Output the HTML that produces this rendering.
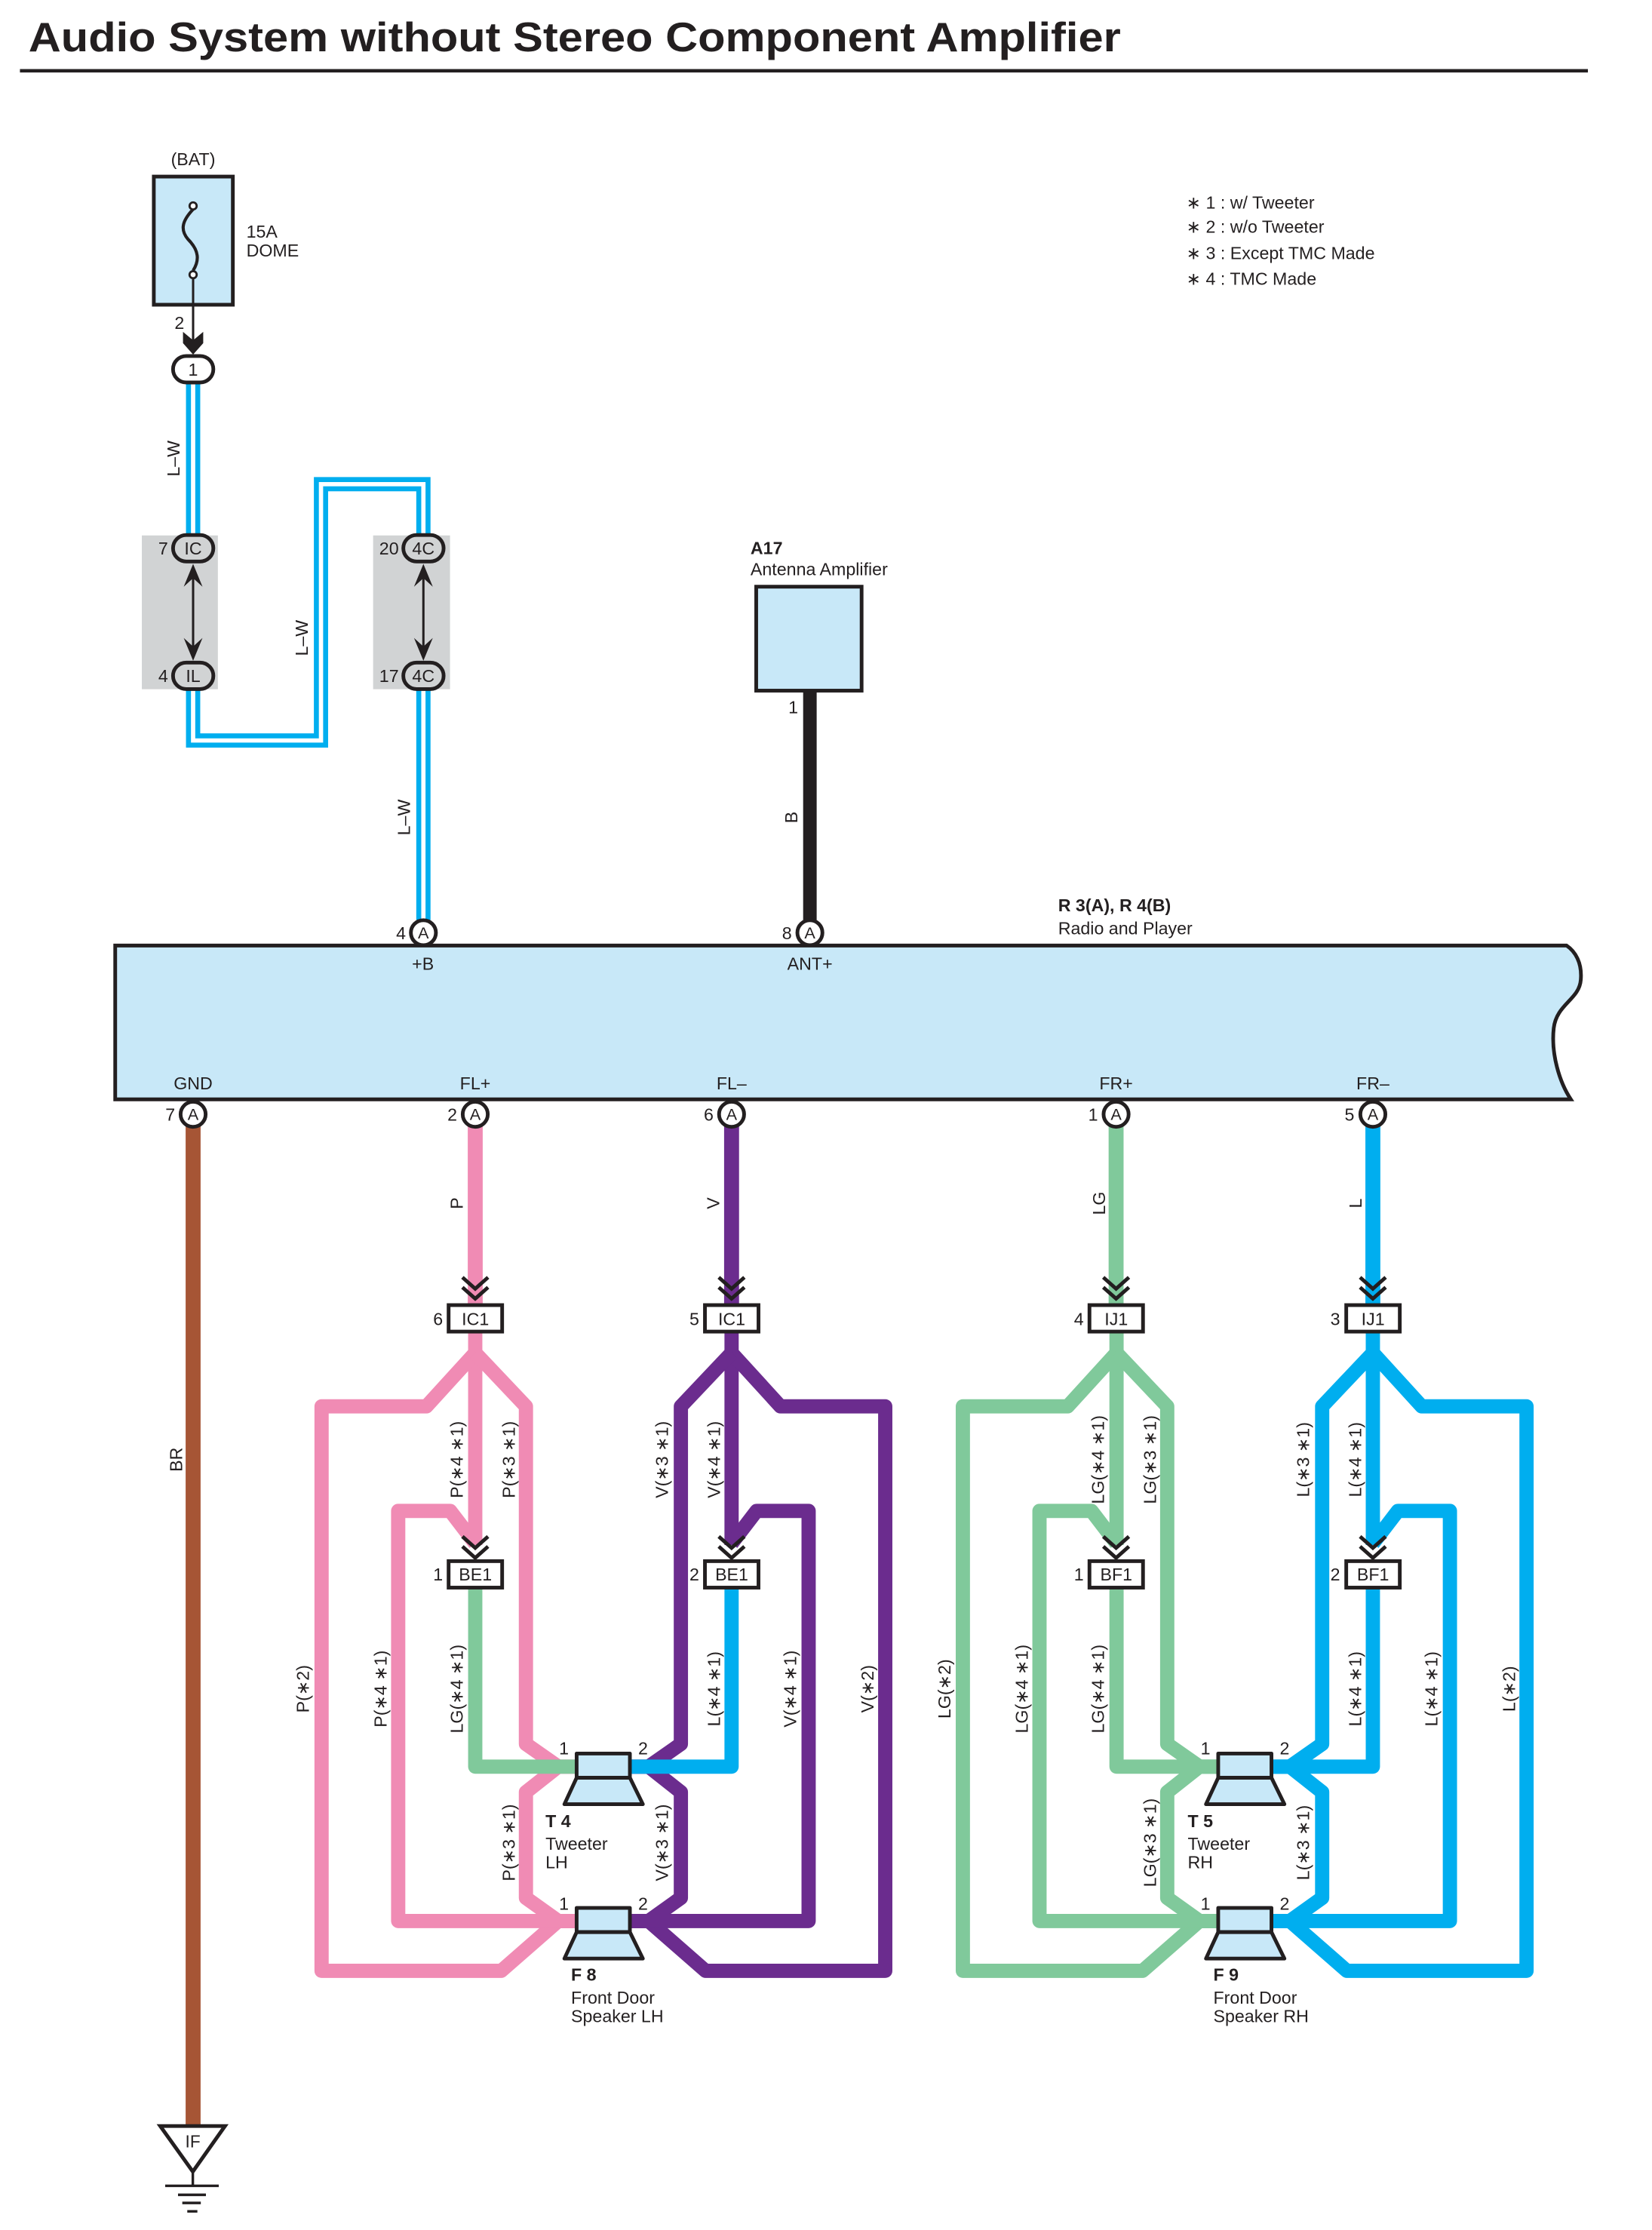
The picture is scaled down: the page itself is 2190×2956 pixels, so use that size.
<!DOCTYPE html>
<html><head><meta charset="utf-8"><style>
html,body{margin:0;padding:0;background:#fff;}
svg{display:block;}
text{font-family:"Liberation Sans",sans-serif;fill:#231f20;}
</style></head><body>
<svg width="2190" height="2956" viewBox="0 0 1160 1566" preserveAspectRatio="none" xmlns="http://www.w3.org/2000/svg">
<defs>
<g id="chev" fill="none" stroke="#231f20" stroke-width="2.6" stroke-linejoin="miter">
<polyline points="-9,0 0,8 9,0"/><polyline points="-9,7 0,15 9,7"/>
</g>
<g id="spk" stroke="#231f20" stroke-width="2.6" fill="#c8e8f8" stroke-linejoin="round">
<rect x="-18.7" y="0" width="37.4" height="17"/>
<polygon points="-18.7,17 18.7,17 27.8,35.6 -27.3,35.6"/>
</g>
</defs>

<text x="20" y="36" font-size="29" font-weight="bold" textLength="767" lengthAdjust="spacingAndGlyphs">Audio System without Stereo Component Amplifier</text>
<rect x="14" y="48.5" width="1101" height="2.4" fill="#231f20"/>

<g font-size="12.3">
<text x="833" y="146.5">∗ 1 : w/ Tweeter</text>
<text x="833" y="163.5">∗ 2 : w/o Tweeter</text>
<text x="833" y="182">∗ 3 : Except TMC Made</text>
<text x="833" y="200">∗ 4 : TMC Made</text>
</g>

<text x="135.6" y="116" font-size="12.3" text-anchor="middle">(BAT)</text>
<rect x="108" y="124" width="55.5" height="90" fill="#c8e8f8" stroke="#231f20" stroke-width="2.6"/>
<path d="M135.6,147 C127,156 127,162 132,168 C140,176 140,183 135.6,190" fill="none" stroke="#231f20" stroke-width="2.2"/>
<circle cx="135.6" cy="144.6" r="2.5" fill="#fff" stroke="#231f20" stroke-width="1.5"/>
<circle cx="135.6" cy="192.9" r="2.5" fill="#fff" stroke="#231f20" stroke-width="1.5"/>
<text x="173" y="167" font-size="12.3">15A</text>
<text x="173" y="180" font-size="12.3">DOME</text>
<line x1="135.6" y1="195" x2="135.6" y2="240" stroke="#231f20" stroke-width="1.6"/>
<polygon points="128.5,233 135.6,239 142.7,233 142.7,241 135.6,249 128.5,241" fill="#231f20"/>
<text x="126" y="231" font-size="12.3" text-anchor="middle">2</text>

<rect x="99.6" y="376" width="53.4" height="108" fill="#d1d3d4"/>
<rect x="262" y="376" width="54" height="108" fill="#d1d3d4"/>

<g fill="none" stroke-linejoin="miter">
<path d="M135.6,269 V376 M135.6,484 V520 H225.4 V340 H297.3 V376 M297.3,484 V646" stroke="#00aeef" stroke-width="10"/>
<path d="M135.6,269 V376 M135.6,484 V520 H225.4 V340 H297.3 V376 M297.3,484 V646" stroke="#fff" stroke-width="3"/>
</g>
<text transform="translate(126,322) rotate(-90)" font-size="12.3" text-anchor="middle">L–W</text>
<text transform="translate(216,448) rotate(-90)" font-size="12.3" text-anchor="middle">L–W</text>
<text transform="translate(288,574) rotate(-90)" font-size="12.3" text-anchor="middle">L–W</text>

<rect x="121.5" y="250" width="28.3" height="18.6" rx="9.3" fill="#fff" stroke="#231f20" stroke-width="2.6"/>
<text x="135.6" y="263.8" font-size="12.3" text-anchor="middle">1</text>
<g stroke="#231f20" stroke-width="2.6" fill="#d1d3d4">
<rect x="121.5" y="375.7" width="28.3" height="18.6" rx="9.3"/>
<rect x="121.5" y="465.3" width="28.3" height="18.6" rx="9.3"/>
<rect x="283.2" y="375.7" width="28.3" height="18.6" rx="9.3"/>
<rect x="283.2" y="465.3" width="28.3" height="18.6" rx="9.3"/>
</g>
<g font-size="12.3" text-anchor="middle">
<text x="135.6" y="389.5">IC</text><text x="135.6" y="479">IL</text>
<text x="297.3" y="389.5">4C</text><text x="297.3" y="479">4C</text>
</g>
<g font-size="12.3" text-anchor="end">
<text x="118" y="389.5">7</text><text x="118" y="479">4</text>
<text x="280" y="389.5">20</text><text x="280" y="479">17</text>
</g>
<g stroke="#231f20" stroke-width="1.6"><line x1="135.6" y1="404" x2="135.6" y2="456"/><line x1="297.3" y1="404" x2="297.3" y2="456"/></g>
<g fill="#231f20">
<polygon points="129,412 135.6,396 142.2,412 135.6,406"/>
<polygon points="129,448 135.6,464 142.2,448 135.6,454"/>
<polygon points="290.7,412 297.3,396 303.9,412 297.3,406"/>
<polygon points="290.7,448 297.3,464 303.9,448 297.3,454"/>
</g>

<text x="527" y="389" font-size="12.3" font-weight="bold">A17</text>
<text x="527" y="404" font-size="12.3">Antenna Amplifier</text>
<rect x="531" y="412" width="74" height="73" fill="#c8e8f8" stroke="#231f20" stroke-width="2.6"/>
<line x1="568.7" y1="485" x2="568.7" y2="646" stroke="#231f20" stroke-width="9.5"/>
<text x="557" y="501" font-size="12.3" text-anchor="middle">1</text>
<text transform="translate(560,574) rotate(-90)" font-size="12.3" text-anchor="middle">B</text>

<text x="743" y="640" font-size="12.3" font-weight="bold">R 3(A), R 4(B)</text>
<text x="743" y="656" font-size="12.3">Radio and Player</text>
<path d="M80.9,664 H1100 C1106,668 1111,676 1110,688 C1109,702 1093,705 1091,722 C1089,740 1095,760 1103,772 H80.9 Z" fill="#c8e8f8" stroke="#231f20" stroke-width="2.6" stroke-linejoin="miter"/>
<g font-size="12.3" text-anchor="middle">
<text x="297" y="681">+B</text><text x="568.7" y="681">ANT+</text>
<text x="135.6" y="765">GND</text><text x="333.7" y="765">FL+</text><text x="513.7" y="765">FL–</text>
<text x="783.7" y="765">FR+</text><text x="964" y="765">FR–</text>
</g>

<g fill="none" stroke-width="10.5">
<line x1="135.6" y1="790" x2="135.6" y2="1493" stroke="#a65535"/>
<line x1="333.7" y1="790" x2="333.7" y2="917" stroke="#f08bb4"/>
<line x1="513.7" y1="790" x2="513.7" y2="917" stroke="#6b2c8e"/>
<line x1="783.7" y1="790" x2="783.7" y2="917" stroke="#80c99b"/>
<line x1="964" y1="790" x2="964" y2="917" stroke="#00aeef"/>
</g>
<g font-size="12.3">
<text transform="translate(128,1025) rotate(-90)" text-anchor="middle">BR</text>
<text transform="translate(325,845) rotate(-90)" text-anchor="middle">P</text>
<text transform="translate(505,845) rotate(-90)" text-anchor="middle">V</text>
<text transform="translate(776,845) rotate(-90)" text-anchor="middle">LG</text>
<text transform="translate(956,845) rotate(-90)" text-anchor="middle">L</text>
</g>

<g fill="#fff" stroke="#231f20" stroke-width="2.6">
<circle cx="297.3" cy="655" r="8.8"/><circle cx="568.7" cy="655" r="8.8"/>
<circle cx="135.6" cy="782.5" r="8.8"/><circle cx="333.7" cy="782.5" r="8.8"/><circle cx="513.7" cy="782.5" r="8.8"/>
<circle cx="783.7" cy="782.5" r="8.8"/><circle cx="964" cy="782.5" r="8.8"/>
</g>
<g font-size="11.5" text-anchor="middle">
<text x="297.3" y="659">A</text><text x="568.7" y="659">A</text>
<text x="135.6" y="786.5">A</text><text x="333.7" y="786.5">A</text><text x="513.7" y="786.5">A</text>
<text x="783.7" y="786.5">A</text><text x="964" y="786.5">A</text>
</g>
<g font-size="12.3" text-anchor="end">
<text x="285" y="659.5">4</text><text x="556" y="659.5">8</text>
<text x="123" y="787">7</text><text x="321" y="787">2</text><text x="501" y="787">6</text>
<text x="771" y="787">1</text><text x="951" y="787">5</text>
</g>

<g fill="none" stroke-width="10" stroke-linejoin="round">
<g stroke="#f08bb4">
<path d="M333.7,935 V1085"/>
<path d="M333.7,950 L299.4,987.6 H225.8 V1384 H352 L392,1349 H405"/>
<path d="M333.7,950 L369.3,987.6 V1224.7 L392,1240.6 H405"/>
<path d="M405,1240.6 H392 L369.3,1258.5 V1332.8 L392,1349 H405"/>
<path d="M333.7,1084 L316.1,1061 H279.6 V1349 H405"/>
</g>
<g stroke="#6b2c8e">
<path d="M513.7,935 V1085"/>
<path d="M513.7,950 L548,987.6 H621.6 V1384 H495.4 L455.4,1349 H442"/>
<path d="M513.7,950 L478.1,987.6 V1224.7 L455.4,1240.6 H442"/>
<path d="M442,1240.6 H455.4 L478.1,1258.5 V1332.8 L455.4,1349 H442"/>
<path d="M513.7,1084 L531.3,1061 H567.8 V1349 H442"/>
</g>
<path d="M333.7,1115 V1240.6 H405" stroke="#80c99b"/>
<path d="M513.7,1115 V1240.6 H442" stroke="#00aeef"/>
</g>
<g transform="translate(450.3,0)" fill="none" stroke-width="10" stroke-linejoin="round">
<g stroke="#80c99b">
<path d="M333.7,935 V1085"/>
<path d="M333.7,950 L299.4,987.6 H225.8 V1384 H352 L392,1349 H405"/>
<path d="M333.7,950 L369.3,987.6 V1224.7 L392,1240.6 H405"/>
<path d="M405,1240.6 H392 L369.3,1258.5 V1332.8 L392,1349 H405"/>
<path d="M333.7,1084 L316.1,1061 H279.6 V1349 H405"/>
</g>
<g stroke="#00aeef">
<path d="M513.7,935 V1085"/>
<path d="M513.7,950 L548,987.6 H621.6 V1384 H495.4 L455.4,1349 H442"/>
<path d="M513.7,950 L478.1,987.6 V1224.7 L455.4,1240.6 H442"/>
<path d="M442,1240.6 H455.4 L478.1,1258.5 V1332.8 L455.4,1349 H442"/>
<path d="M513.7,1084 L531.3,1061 H567.8 V1349 H442"/>
</g>
<path d="M333.7,1115 V1240.6 H405" stroke="#80c99b"/>
<path d="M513.7,1115 V1240.6 H442" stroke="#00aeef"/>
</g>

<use href="#chev" x="333.7" y="897"/>
<use href="#chev" x="513.7" y="897"/>
<use href="#chev" x="333.7" y="1079"/>
<use href="#chev" x="513.7" y="1079"/>
<use href="#chev" x="783.7" y="897"/>
<use href="#chev" x="964" y="897"/>
<use href="#chev" x="783.7" y="1079"/>
<use href="#chev" x="964" y="1079"/>
<g fill="#fff" stroke="#231f20" stroke-width="2.6">
<rect x="315" y="916.5" width="37.6" height="18.6"/>
<rect x="495" y="916.5" width="37.6" height="18.6"/>
<rect x="315" y="1096.3" width="37.6" height="18.6"/>
<rect x="495" y="1096.3" width="37.6" height="18.6"/>
<rect x="765" y="916.5" width="37.6" height="18.6"/>
<rect x="945.3" y="916.5" width="37.6" height="18.6"/>
<rect x="765" y="1096.3" width="37.6" height="18.6"/>
<rect x="945.3" y="1096.3" width="37.6" height="18.6"/>
</g>
<g font-size="12.3" text-anchor="middle">
<text x="333.8" y="930.5">IC1</text><text x="513.8" y="930.5">IC1</text>
<text x="333.8" y="1110">BE1</text><text x="513.8" y="1110">BE1</text>
<text x="783.8" y="930.5">IJ1</text><text x="964.1" y="930.5">IJ1</text>
<text x="783.8" y="1110">BF1</text><text x="964.1" y="1110">BF1</text>
</g>
<g font-size="12.3" text-anchor="end">
<text x="311" y="930.5">6</text><text x="491" y="930.5">5</text>
<text x="311" y="1110">1</text><text x="491" y="1110">2</text>
<text x="761" y="930.5">4</text><text x="941" y="930.5">3</text>
<text x="761" y="1110">1</text><text x="941" y="1110">2</text>
</g>

<use href="#spk" x="423.6" y="1231.4"/>
<use href="#spk" x="423.6" y="1339.8"/>
<use href="#spk" x="874.1" y="1231.4"/>
<use href="#spk" x="874.1" y="1339.8"/>

<g font-size="12.3" text-anchor="middle">
<text x="396" y="1232">1</text><text x="451.5" y="1232">2</text>
<text x="396" y="1341">1</text><text x="451.5" y="1341">2</text>
<text x="846.5" y="1232">1</text><text x="902" y="1232">2</text>
<text x="846.5" y="1341">1</text><text x="902" y="1341">2</text>
</g>
<g font-size="12.3">
<text x="383" y="1283" font-weight="bold">T 4</text>
<text x="383" y="1299">Tweeter</text>
<text x="383" y="1312">LH</text>
<text x="401" y="1391" font-weight="bold">F 8</text>
<text x="401" y="1407">Front Door</text>
<text x="401" y="1420">Speaker LH</text>
<text x="834" y="1283" font-weight="bold">T 5</text>
<text x="834" y="1299">Tweeter</text>
<text x="834" y="1312">RH</text>
<text x="852" y="1391" font-weight="bold">F 9</text>
<text x="852" y="1407">Front Door</text>
<text x="852" y="1420">Speaker RH</text>
</g>

<g font-size="12.3" text-anchor="middle">
<text transform="translate(325,1025) rotate(-90)">P(∗4 ∗1)</text>
<text transform="translate(361.5,1025) rotate(-90)">P(∗3 ∗1)</text>
<text transform="translate(217,1186) rotate(-90)">P(∗2)</text>
<text transform="translate(271.5,1186) rotate(-90)">P(∗4 ∗1)</text>
<text transform="translate(325,1186) rotate(-90)">LG(∗4 ∗1)</text>
<text transform="translate(361.5,1294) rotate(-90)">P(∗3 ∗1)</text>
<text transform="translate(469,1025) rotate(-90)">V(∗3 ∗1)</text>
<text transform="translate(505.5,1025) rotate(-90)">V(∗4 ∗1)</text>
<text transform="translate(505.5,1186) rotate(-90)">L(∗4 ∗1)</text>
<text transform="translate(559,1186) rotate(-90)">V(∗4 ∗1)</text>
<text transform="translate(613.5,1186) rotate(-90)">V(∗2)</text>
<text transform="translate(469,1294) rotate(-90)">V(∗3 ∗1)</text>

<text transform="translate(775.3,1025) rotate(-90)">LG(∗4 ∗1)</text>
<text transform="translate(811.8,1025) rotate(-90)">LG(∗3 ∗1)</text>
<text transform="translate(667.3,1186) rotate(-90)">LG(∗2)</text>
<text transform="translate(721.8,1186) rotate(-90)">LG(∗4 ∗1)</text>
<text transform="translate(775.3,1186) rotate(-90)">LG(∗4 ∗1)</text>
<text transform="translate(811.8,1294) rotate(-90)">LG(∗3 ∗1)</text>
<text transform="translate(919.3,1025) rotate(-90)">L(∗3 ∗1)</text>
<text transform="translate(955.8,1025) rotate(-90)">L(∗4 ∗1)</text>
<text transform="translate(955.8,1186) rotate(-90)">L(∗4 ∗1)</text>
<text transform="translate(1009.3,1186) rotate(-90)">L(∗4 ∗1)</text>
<text transform="translate(1063.8,1186) rotate(-90)">L(∗2)</text>
<text transform="translate(919.3,1294) rotate(-90)">L(∗3 ∗1)</text>
</g>

<polygon points="112.5,1493 158,1493 135.4,1525" fill="#fff" stroke="#231f20" stroke-width="2.6" stroke-linejoin="miter"/>
<text x="135.4" y="1508" font-size="12" text-anchor="middle">IF</text>
<g stroke="#231f20" stroke-width="1.8">
<line x1="135.4" y1="1525" x2="135.4" y2="1535"/>
<line x1="116" y1="1535" x2="153.6" y2="1535"/>
<line x1="125" y1="1541.3" x2="144.6" y2="1541.3"/>
<line x1="128" y1="1547" x2="141" y2="1547"/>
<line x1="131.5" y1="1552.9" x2="138.6" y2="1552.9"/>
</g>
</svg>
</body></html>
